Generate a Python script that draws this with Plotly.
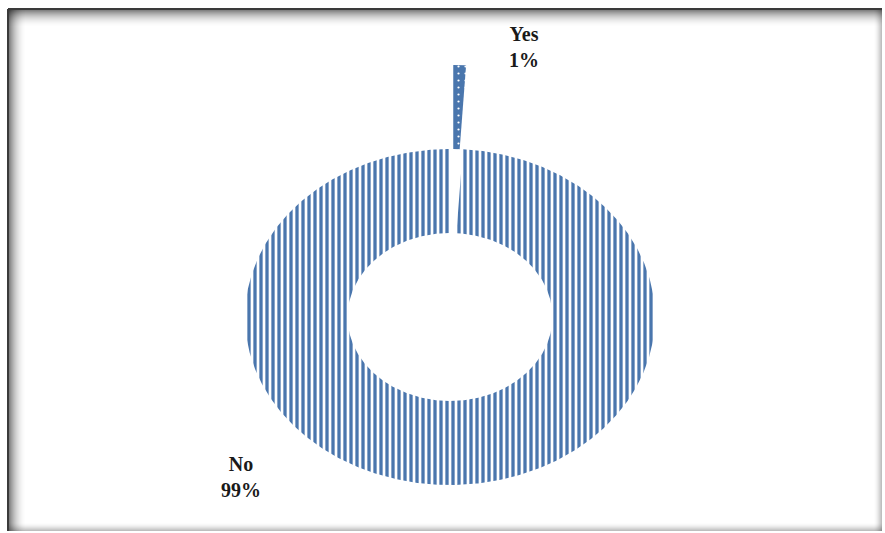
import numpy as np
import plotly.graph_objects as go

# Survey answers and their shares (percent)
categories = ["Yes", "No"]
shares = [1, 99]

# Donut geometry (unit radius, elliptical look comes from axis scaling)
HOLE = 0.5
PULL = [0.5, 0.0]
BLUE = "#4a76ad"

fig = go.Figure()

total = float(sum(shares))
start = 0.0
for cat, val, pull in zip(categories, shares, PULL):
    a0 = 2 * np.pi * start / total
    a1 = 2 * np.pi * (start + val) / total
    start += val
    mid = (a0 + a1) / 2
    dx, dy = pull * np.sin(mid), pull * np.cos(mid)
    n = max(int(np.degrees(a1 - a0) * 2), 8)
    t = np.linspace(a0, a1, n)
    xs = np.concatenate([np.sin(t), HOLE * np.sin(t[::-1])]) + dx
    ys = np.concatenate([np.cos(t), HOLE * np.cos(t[::-1])]) + dy
    xs = np.append(xs, xs[0])
    ys = np.append(ys, ys[0])
    if cat == "Yes":
        pattern = dict(shape=".", fgcolor="white", bgcolor=BLUE, size=7,
                       solidity=0.08, fgopacity=1)
    else:
        pattern = dict(shape="|", fgcolor=BLUE, bgcolor="white", size=6,
                       solidity=0.55, fgopacity=1)
    fig.add_trace(go.Scatter(
        x=xs, y=ys, mode="lines", fill="toself",
        line=dict(width=0, color=BLUE),
        fillcolor="white" if cat == "No" else BLUE,
        fillpattern=pattern,
        name=cat, hoverinfo="name", showlegend=False,
    ))

# Data labels: category name above, percentage below
label_pos = [(0.36, 1.61), (-1.02, -0.95)]
label_font = dict(family="Liberation Serif, Times New Roman, serif", size=20, color="#1a1a1a")
for cat, val, (lx, ly) in zip(categories, shares, label_pos):
    fig.add_annotation(x=lx, y=ly, text=f"<b>{cat}<br>{val}%</b>", showarrow=False,
                       font=label_font, align="center")

# Frame with inner shadow along the top and left edges
shapes = []
L, T, R, B = 8, 9, 882, 531
W, H = 885.0, 533.0


def px(x):
    return x / W


def py(y):
    return 1 - y / H


for i in range(18):
    op = 0.55 * (1 - i / 18) ** 2
    shapes.append(dict(type="rect", xref="paper", yref="paper",
                       x0=px(L), x1=px(R), y0=py(T + i + 1), y1=py(T + i),
                       fillcolor="black", opacity=op, line=dict(width=0), layer="below"))
    shapes.append(dict(type="rect", xref="paper", yref="paper",
                       x0=px(L + i), x1=px(L + i + 1), y0=py(B), y1=py(T),
                       fillcolor="black", opacity=op, line=dict(width=0), layer="below"))
for i in range(8):
    op = 0.12 * (1 - i / 8)
    shapes.append(dict(type="rect", xref="paper", yref="paper",
                       x0=px(L), x1=px(R), y0=py(B), y1=py(B - i - 1),
                       fillcolor="black", opacity=op / 2, line=dict(width=0), layer="below"))
    shapes.append(dict(type="rect", xref="paper", yref="paper",
                       x0=px(R - i - 1), x1=px(R), y0=py(B), y1=py(T),
                       fillcolor="black", opacity=op / 2, line=dict(width=0), layer="below"))
shapes.append(dict(type="line", xref="paper", yref="paper",
                   x0=px(L), x1=px(R), y0=py(T), y1=py(T),
                   line=dict(color="#3a3a3a", width=2)))
shapes.append(dict(type="line", xref="paper", yref="paper",
                   x0=px(L), x1=px(L), y0=py(B), y1=py(T),
                   line=dict(color="#3a3a3a", width=2)))

# Axis scaling: centre at (450, 317) px, 205 px per unit across, 168 px per unit down
cx, cy, sx, sy = 450, 317, 205, 168
fig.update_layout(
    width=885, height=533,
    margin=dict(l=0, r=0, t=0, b=0),
    paper_bgcolor="white", plot_bgcolor="white",
    xaxis=dict(range=[-cx / sx, (W - cx) / sx], visible=False, fixedrange=True),
    yaxis=dict(range=[-(H - cy) / sy, cy / sy], visible=False, fixedrange=True),
    shapes=shapes,
)

fig.write_html("out.html")
